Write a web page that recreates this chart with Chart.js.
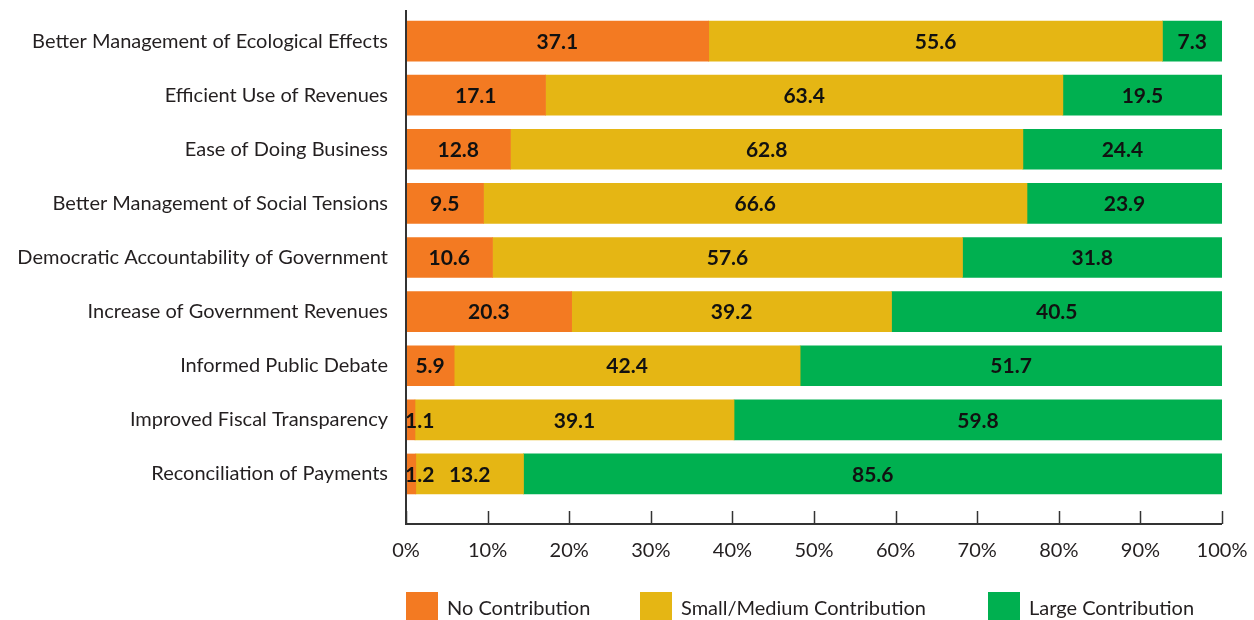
<!DOCTYPE html>
<html>
<head>
<meta charset="utf-8">
<script src="https://cdn.jsdelivr.net/npm/chart.js@4/dist/chart.umd.min.js"></script>
<style>
  body { margin: 0; background: #fff; }
  #wrap { position: relative; width: 1254px; height: 620px; overflow: hidden; }
  #legend { position: absolute; left: 0; top: 592px; width: 1254px; height: 30px;
            font-family: Lato, sans-serif; font-size: 20px; color: #231f20; }
  .item { position: absolute; top: 0; display: flex; align-items: center; height: 30px; }
  .box { width: 32px; height: 30px; margin-right: 9px; }
</style>
</head>
<body>
<div id="wrap">
  <canvas id="chart" width="1254" height="620"></canvas>
  <div id="legend"></div>
</div>
<script>
let categories = [
    'Better Management of Ecological Effects',
    'Efficient Use of Revenues',
    'Ease of Doing Business',
    'Better Management of Social Tensions',
    'Democratic Accountability of Government',
    'Increase of Government Revenues',
    'Informed Public Debate',
    'Improved Fiscal Transparency',
    'Reconciliation of Payments'
];

let noContribution = [37.1, 17.1, 12.8, 9.5, 10.6, 20.3, 5.9, 1.1, 1.2];
let smallMedium = [55.6, 63.4, 62.8, 66.6, 57.6, 39.2, 42.4, 39.1, 13.2];
let largeContribution = [7.3, 19.5, 24.4, 23.9, 31.8, 40.5, 51.7, 59.8, 85.6];

let seriesNames = ['No Contribution', 'Small/Medium Contribution', 'Large Contribution'];
let seriesColors = ['#F37A22', '#E5B614', '#00B050'];

// axis lines and inward tick marks
const axisPlugin = {
    id: 'axisLines',
    afterDraw(chart) {
        const ctx = chart.ctx;
        const area = chart.chartArea;
        const xs = chart.scales.x;
        const baseY = area.bottom + 23;
        ctx.save();
        ctx.strokeStyle = '#333';
        ctx.lineWidth = 2;
        ctx.beginPath();
        ctx.moveTo(area.left, area.top - 4);
        ctx.lineTo(area.left, baseY);
        ctx.lineTo(area.right, baseY);
        ctx.stroke();
        ctx.lineWidth = 1.5;
        xs.ticks.forEach(t => {
            const px = Math.round(xs.getPixelForValue(t.value)) + 0.5;
            ctx.beginPath();
            ctx.moveTo(px, baseY - 13);
            ctx.lineTo(px, baseY);
            ctx.stroke();
        });
        ctx.restore();
    }
};

// value labels inside the bars
const valuePlugin = {
    id: 'valueLabels',
    afterDatasetsDraw(chart) {
        const ctx = chart.ctx;
        ctx.save();
        ctx.font = 'bold 21px Lato, sans-serif';
        ctx.fillStyle = '#111';
        ctx.textBaseline = 'middle';
        chart.data.datasets.forEach((ds, i) => {
            const meta = chart.getDatasetMeta(i);
            meta.data.forEach((bar, j) => {
                const txt = ds.data[j].toFixed(1);
                const left = Math.min(bar.x, bar.base);
                const w = Math.abs(bar.x - bar.base);
                const tw = ctx.measureText(txt).width;
                if (tw > w) {
                    ctx.textAlign = 'left';
                    ctx.fillText(txt, left - 1, bar.y + 1);
                } else {
                    ctx.textAlign = 'center';
                    ctx.fillText(txt, left + w / 2, bar.y + 1);
                }
            });
        });
        ctx.restore();
    }
};

let chart = new Chart(document.getElementById('chart'), {
    type: 'bar',
    data: {
        labels: categories,
        datasets: [
            { label: seriesNames[0], data: noContribution, backgroundColor: seriesColors[0] },
            { label: seriesNames[1], data: smallMedium, backgroundColor: seriesColors[1] },
            { label: seriesNames[2], data: largeContribution, backgroundColor: seriesColors[2] }
        ]
    },
    options: {
        indexAxis: 'y',
        responsive: false,
        animation: false,
        devicePixelRatio: 1,
        layout: { padding: { top: 14, right: 32, bottom: 59, left: 0 } },
        datasets: { bar: { barThickness: 40, borderWidth: 0 } },
        plugins: { legend: { display: false }, tooltip: { enabled: false } },
        scales: {
            x: {
                stacked: true,
                min: 0,
                max: 100,
                grid: { display: false },
                border: { display: false },
                ticks: {
                    stepSize: 10,
                    padding: 30,
                    color: '#231f20',
                    font: { family: 'Lato, sans-serif', size: 20 },
                    callback: v => v + '%'
                },
                afterFit(scale) {
                    scale.height = 60;
                    scale.paddingLeft = 0;
                    scale.paddingRight = 0;
                }
            },
            y: {
                stacked: true,
                grid: { display: false },
                border: { display: false },
                ticks: {
                    padding: 10,
                    color: '#231f20',
                    font: { family: 'Lato, sans-serif', size: 20 }
                },
                afterFit(scale) {
                    scale.width = 406;
                    scale.paddingTop = 0;
                    scale.paddingBottom = 0;
                }
            }
        }
    },
    plugins: [axisPlugin, valuePlugin]
});

// legend
let legendX = [406, 640, 988];
let legend = document.getElementById('legend');
seriesNames.forEach((name, i) => {
    let item = document.createElement('div');
    item.className = 'item';
    item.style.left = legendX[i] + 'px';
    item.innerHTML = '<div class="box" style="background:' + seriesColors[i] + '"></div><span>' + name + '</span>';
    legend.appendChild(item);
});
</script>
</body>
</html>
